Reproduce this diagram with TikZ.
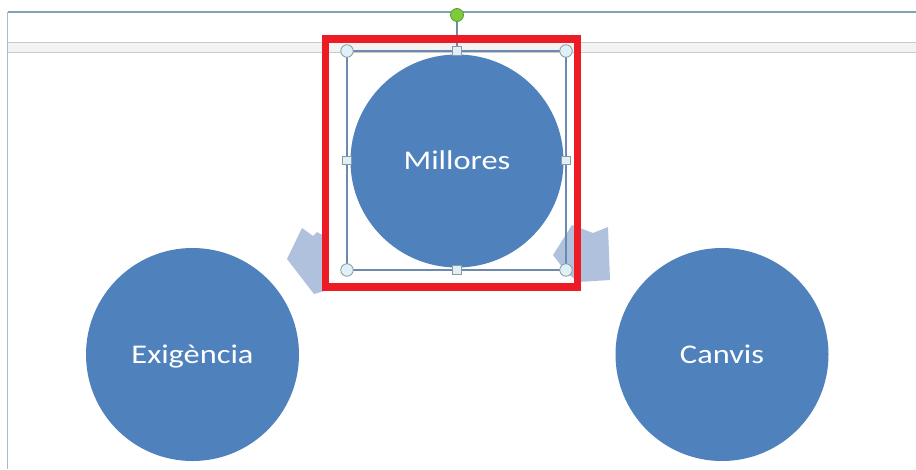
\documentclass[tikz,border=0pt]{standalone}
\usepackage{fontspec}
\setmainfont[FakeStretch=1.2]{Carlito}
\definecolor{circblue}{HTML}{4F81BD}
\definecolor{arrowc}{RGB}{176,193,222}
\definecolor{framec}{HTML}{7FA3B3}
\definecolor{leftc}{HTML}{A3BFCB}
\definecolor{bandfill}{HTML}{F3F3F3}
\definecolor{bandline}{HTML}{CACACA}
\definecolor{selc}{HTML}{6C8AAE}
\definecolor{handlefill}{HTML}{DFF1F6}
\definecolor{handleline}{HTML}{8A9AA4}
\definecolor{greenh}{HTML}{7DCB3C}
\definecolor{greenline}{HTML}{5E9A2C}
\definecolor{marker}{HTML}{ED1C24}
\tikzset{
  bubble/.style={circle, fill=circblue, draw=none, minimum size=213pt, inner sep=0pt,
    text=white, font=\fontsize{27}{30}\selectfont, text height=17.5pt, text depth=0pt},
  cornerh/.style={circle, fill=handlefill, draw=handleline, line width=0.8pt, minimum size=12.5pt, inner sep=0pt},
  sideh/.style={rectangle, fill=handlefill, draw=handleline, line width=0.8pt, minimum size=8.5pt, inner sep=0pt},
  roth/.style={circle, fill=greenh, draw=greenline, line width=0.8pt, minimum size=13pt, inner sep=0pt},
  blockarrow/.style={fill=arrowc},
  selbox/.style={draw=selc, line width=1.1pt},
  markbox/.style={draw=marker, line width=7.5pt}
}
\begin{document}
\begin{tikzpicture}[x=1pt,y=-1pt]
\useasboundingbox (0,0) rectangle (916,469);
\fill[white] (0,0) rectangle (916,469);
% frame lines
\draw[framec, line width=1.3pt] (7.5,12) -- (916,12);
\draw[leftc, line width=1.6pt] (7.5,12) -- (7.5,469);
% gray band
\fill[bandfill] (8.3,42) rectangle (916,53);
\draw[bandline, line width=1.2pt] (8.3,42.6) -- (916,42.6);
\draw[bandline, line width=1.2pt] (8.3,52.6) -- (916,52.6);
% block arrows
\fill[blockarrow] (302,228) -- (313,236) -- (317,232) -- (328,238) -- (328,290) -- (314,294) -- (287,259) -- cycle;
\fill[blockarrow] (572,225) -- (593,233) -- (608,227) -- (610,280) -- (578,282) -- (566,272) -- (553,255) -- cycle;
% circles
\node[bubble] (mill) at (457,161) {Millores};
\node[bubble] (exig) at (192.5,354.5) {Exigència};
\node[bubble] (canv) at (722,354.5) {Canvis};
% selection box
\draw[selbox] (347,51) rectangle (566,270);
\node[roth] (rot) at (457,15) {};
\node[sideh] (st) at (457,51) {};
\draw[selc, line width=1.3pt] (rot) -- (st);
\node[sideh] (st2) at (457,51) {};
\node[sideh] (sb) at (457,270) {};
\node[sideh] (sl) at (347,160.5) {};
\node[sideh] (sr) at (566,160.5) {};
\node[cornerh] (c1) at (347,51) {};
\node[cornerh] (c2) at (566,51) {};
\node[cornerh] (c3) at (347,270) {};
\node[cornerh] (c4) at (566,270) {};
% red marker
\draw[markbox] (325.5,39) rectangle (577.5,287);
\end{tikzpicture}
\end{document}
